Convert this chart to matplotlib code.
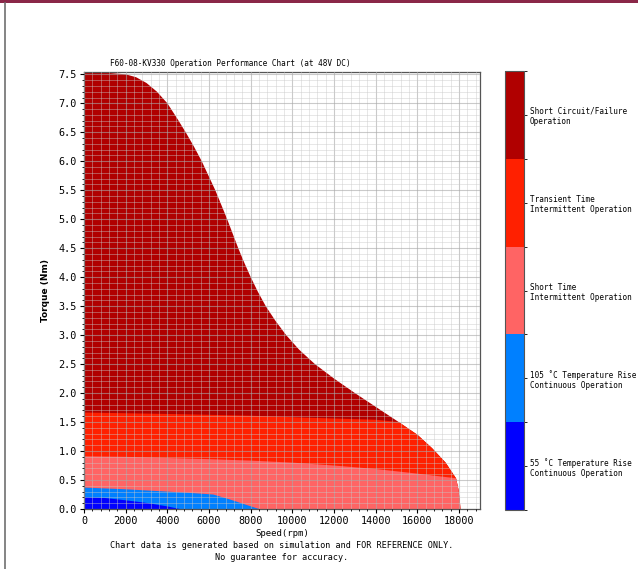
import matplotlib
matplotlib.use("Agg")
import matplotlib.pyplot as plt
import numpy as np
from matplotlib.colors import ListedColormap, BoundaryNorm
from matplotlib.cm import ScalarMappable
from matplotlib.patches import Rectangle
from matplotlib.lines import Line2D
from matplotlib.ticker import MultipleLocator, FormatStrFormatter

# outer envelope (short circuit / failure limit): speed rpm, torque Nm
outer_rpm = [0, 1000, 2000, 2500, 3000, 3500, 4000, 4450, 4880, 5280, 5650, 6300, 6870,
             7400, 7690, 8000, 8340, 8720, 9180, 9700, 10320, 11080, 12000, 13000,
             14050, 15100, 16000, 16700, 17350, 17850, 17970, 18040, 18060]
outer_nm = [7.55, 7.53, 7.50, 7.45, 7.35, 7.20, 7.00, 6.75, 6.50, 6.25, 6.00, 5.50, 5.00,
            4.50, 4.25, 4.00, 3.75, 3.50, 3.25, 3.00, 2.75, 2.50, 2.25, 2.00,
            1.75, 1.50, 1.28, 1.05, 0.80, 0.53, 0.33, 0.10, 0.0]

# transient time intermittent upper bound
trans_rpm = [0, 4000, 8000, 10300, 14000, 15100]
trans_nm = [1.665, 1.64, 1.61, 1.58, 1.54, 1.50]

# short time intermittent upper bound
short_rpm = [0, 2000, 4000, 6000, 8000, 10000, 12000, 14000, 16000, 17850]
short_nm = [0.91, 0.90, 0.88, 0.86, 0.835, 0.80, 0.75, 0.69, 0.61, 0.53]

# 105 C continuous
c105_rpm = [0, 1000, 2000, 3000, 4000, 5000, 6200, 7000, 7800, 8400]
c105_nm = [0.37, 0.355, 0.34, 0.32, 0.30, 0.28, 0.25, 0.165, 0.07, 0.0]

# 55 C continuous
c55_rpm = [0, 1000, 2000, 3000, 4000, 4600]
c55_nm = [0.20, 0.19, 0.15, 0.105, 0.045, 0.0]

zone_labels = ["55 ˚C Temperature Rise\nContinuous Operation",
               "105 ˚C Temperature Rise\nContinuous Operation",
               "Short Time\nIntermittent Operation",
               "Transient Time\nIntermittent Operation",
               "Short Circuit/Failure\nOperation"]
zone_colors = ["#0000ff", "#0080ff", "#ff6464", "#ff2000", "#b00000"]

MONO = "DejaVu Sans Mono"

fig = plt.figure(figsize=(6.38, 5.69), dpi=100)
W, H = 638, 569


def box(x0, y0, x1, y1):
    return [x0 / W, 1 - y1 / H, (x1 - x0) / W, (y1 - y0) / H]


ax = fig.add_axes(box(84, 72, 480, 509))


def tail(rpm, nm, after):
    # outer-envelope points past where a zone meets it
    return [(r, t) for r, t in zip(rpm, nm) if r > after]


def poly(rpm, nm, extra=()):
    pts = list(zip(rpm, nm)) + list(extra)
    xs = [p[0] for p in pts] + [pts[-1][0], 0]
    ys = [p[1] for p in pts] + [0, 0]
    return xs, ys


layers = [
    poly(outer_rpm, outer_nm),
    poly(trans_rpm, trans_nm, tail(outer_rpm, outer_nm, trans_rpm[-1])),
    poly(short_rpm, short_nm, tail(outer_rpm, outer_nm, short_rpm[-1])),
    poly(c105_rpm, c105_nm),
    poly(c55_rpm, c55_nm),
]
for (xs, ys), c in zip(layers, zone_colors[::-1]):
    ax.fill(xs, ys, color=c, lw=0, zorder=1)

ax.set_xlim(0, 19000)
ax.set_ylim(0, 7.54)
ax.xaxis.set_major_locator(MultipleLocator(2000))
ax.xaxis.set_minor_locator(MultipleLocator(400))
ax.yaxis.set_major_locator(MultipleLocator(0.5))
ax.yaxis.set_minor_locator(MultipleLocator(0.1))
ax.yaxis.set_major_formatter(FormatStrFormatter("%.1f"))
ax.grid(which="major", color="#a8a8a8", lw=0.8, alpha=0.6, zorder=2)
ax.grid(which="minor", color="#c8c8c8", lw=0.6, alpha=0.5, zorder=2)
ax.set_axisbelow(False)
ax.tick_params(which="major", length=3, width=0.8, labelsize=7.3, pad=2)
ax.tick_params(which="minor", length=1.5, width=0.6)
for lbl in ax.get_xticklabels() + ax.get_yticklabels():
    lbl.set_family(MONO)
for s in ax.spines.values():
    s.set_color("#555555")
    s.set_linewidth(0.9)

ax.set_ylabel("Torque (Nm)", fontsize=6.5, fontweight="bold", labelpad=6)
fig.text(282 / W, 1 - 533 / H, "Speed(rpm)", family=MONO, fontsize=6.5,
         ha="center", va="center")
fig.text(282 / W, 1 - 546 / H,
         "Chart data is generated based on simulation and FOR REFERENCE ONLY.",
         family=MONO, fontsize=6.1, ha="center", va="center")
fig.text(282 / W, 1 - 558 / H, "No guarantee for accuracy.",
         family=MONO, fontsize=6.1, ha="center", va="center")
fig.text(230 / W, 1 - 63 / H, "F60-08-KV330 Operation Performance Chart (at 48V DC)",
         family=MONO, fontsize=5.6, ha="center", va="center")

# colour bar
cax = fig.add_axes(box(505, 71, 524, 510))
cmap = ListedColormap(zone_colors)
norm = BoundaryNorm(np.arange(len(zone_colors) + 1), cmap.N)
cb = fig.colorbar(ScalarMappable(norm=norm, cmap=cmap), cax=cax,
                  ticks=np.arange(len(zone_colors)) + 0.5)
cb.ax.set_yticklabels(zone_labels, family=MONO, fontsize=5.5)
cb.ax.tick_params(length=2, width=0.6, pad=2)
cb.outline.set_edgecolor("#555555")
cb.outline.set_linewidth(0.8)

# page frame bits
fig.add_artist(Rectangle((0, 1 - 3 / H), 1, 3 / H, transform=fig.transFigure,
                         color="#8a2748", lw=0))
fig.add_artist(Line2D([4.5 / W, 4.5 / W], [0, 1 - 3 / H], transform=fig.transFigure,
                      color="#707070", lw=1.2))

fig.savefig("out.png", dpi=100, facecolor="white")
